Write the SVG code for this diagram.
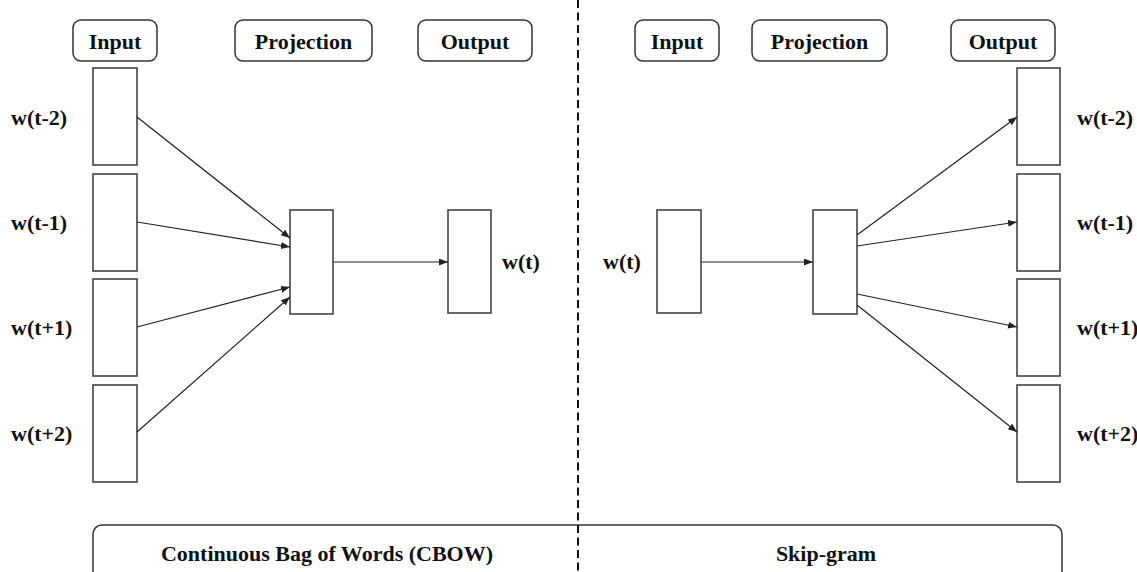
<svg xmlns="http://www.w3.org/2000/svg" width="1137" height="572" viewBox="0 0 1137 572">
<defs>
<style>
.hdr{fill:#fff;stroke:#333;stroke-width:1.5}
.ftr{fill:none;stroke:#333;stroke-width:1.5}
.vec{fill:#fff;stroke:#444;stroke-width:1.6}
.t{font-family:"Liberation Serif","Times New Roman",serif;font-weight:bold;font-size:22px;fill:#111}
.c{text-anchor:middle}
.e{stroke:#222;stroke-width:1.2;fill:none;marker-end:url(#ah)}
.dash{stroke:#111;stroke-width:2;stroke-dasharray:8 4.5;fill:none}
</style>
<marker id="ah" markerUnits="userSpaceOnUse" markerWidth="10" markerHeight="8" refX="9" refY="3.5" orient="auto">
<path d="M0,0 L9,3.5 L0,7 Z" fill="#222"/>
</marker>
</defs>
<rect width="1137" height="572" fill="#fff"/>
<g id="footer">
<rect class="ftr" x="93" y="525" width="969" height="70" rx="9"/>
<text class="t c" x="327" y="561">Continuous Bag of Words (CBOW)</text>
<text class="t c" x="826" y="561">Skip-gram</text>
</g>
<path class="dash" d="M578,0 V572"/>
<g id="cbow-input-header"><rect class="hdr" x="73" y="20" width="84" height="41" rx="8"/><text class="t c" x="115" y="49">Input</text></g>
<g id="cbow-projection-header"><rect class="hdr" x="235" y="20" width="137" height="41" rx="8"/><text class="t c" x="303.5" y="49">Projection</text></g>
<g id="cbow-output-header"><rect class="hdr" x="418" y="20" width="114" height="41" rx="8"/><text class="t c" x="475" y="49">Output</text></g>
<g id="sg-input-header"><rect class="hdr" x="635" y="20" width="84" height="41" rx="8"/><text class="t c" x="677" y="49">Input</text></g>
<g id="sg-projection-header"><rect class="hdr" x="752" y="20" width="135" height="41" rx="8"/><text class="t c" x="819.5" y="49">Projection</text></g>
<g id="sg-output-header"><rect class="hdr" x="951" y="20" width="104" height="41" rx="8"/><text class="t c" x="1003" y="49">Output</text></g>
<g id="cbow-in-t-2"><rect class="vec" x="93" y="68" width="44" height="97"/><text class="t" x="11" y="125">w(t-2)</text></g>
<g id="cbow-in-t-1"><rect class="vec" x="93" y="174" width="44" height="97"/><text class="t" x="11" y="230">w(t-1)</text></g>
<g id="cbow-in-t+1"><rect class="vec" x="93" y="279" width="44" height="97"/><text class="t" x="11" y="335">w(t+1)</text></g>
<g id="cbow-in-t+2"><rect class="vec" x="93" y="385" width="44" height="97"/><text class="t" x="11" y="441">w(t+2)</text></g>
<g id="cbow-projection"><rect class="vec" x="290" y="210" width="43" height="104"/></g>
<g id="cbow-output"><rect class="vec" x="448" y="210" width="43" height="103"/><text class="t" x="502" y="269">w(t)</text></g>
<g id="sg-input"><rect class="vec" x="657" y="210" width="44" height="103"/><text class="t" x="603" y="269">w(t)</text></g>
<g id="sg-projection"><rect class="vec" x="813" y="210" width="44" height="104"/></g>
<g id="sg-out-t-2"><rect class="vec" x="1017" y="68" width="43" height="97"/><text class="t" x="1077" y="125">w(t-2)</text></g>
<g id="sg-out-t-1"><rect class="vec" x="1017" y="174" width="43" height="97"/><text class="t" x="1077" y="230">w(t-1)</text></g>
<g id="sg-out-t+1"><rect class="vec" x="1017" y="279" width="43" height="97"/><text class="t" x="1077" y="335">w(t+1)</text></g>
<g id="sg-out-t+2"><rect class="vec" x="1017" y="385" width="43" height="97"/><text class="t" x="1077" y="441">w(t+2)</text></g>
<g id="connectors">
<path class="e" d="M137,117 L290,238"/>
<path class="e" d="M137,222 L290,247"/>
<path class="e" d="M137,327 L290,287"/>
<path class="e" d="M137,432 L290,297"/>
<path class="e" d="M333,262 L448,262"/>
<path class="e" d="M701,262 L813,262"/>
<path class="e" d="M857,235 L1017,117"/>
<path class="e" d="M857,246 L1017,222"/>
<path class="e" d="M857,294 L1017,327"/>
<path class="e" d="M857,305 L1017,432"/>
</g>
</svg>
